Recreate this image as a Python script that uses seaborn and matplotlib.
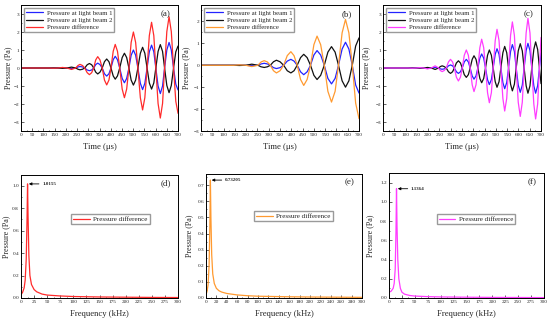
import numpy as np
import pandas as pd
import matplotlib
matplotlib.use("Agg")
import matplotlib.pyplot as plt
import seaborn as sns
from matplotlib.ticker import MultipleLocator, AutoMinorLocator

# =====================================
# Data
# =====================================

# (a) time domain (us) / pressure (Pa)
time_a = [0, 125, 145, 165, 185, 205, 225, 244,
          254, 263, 274, 284, 295, 305, 315, 324, 333, 342, 352, 362,
          372, 382, 392, 401, 411, 420, 430, 440, 451, 461, 471, 481,
          491, 501, 511, 521, 532, 542, 552, 562, 572, 582, 592, 601,
          611, 621, 631, 640, 650, 660, 670, 680, 690, 700]
beam1_a = [0, 0, -0.005, 0, 0.01, 0, -0.03, 0,
           0.06, 0.08, 0.06, 0, -0.11, -0.15, -0.11, 0, 0.19, 0.27, 0.19, 0,
           -0.32, -0.45, -0.32, 0, 0.46, 0.65, 0.46, 0, -0.58, -0.82, -0.58, 0,
           0.71, 1.0, 0.71, 0, -0.85, -1.2, -0.85, 0, 0.9, 1.27, 0.9, 0,
           -1.0, -1.42, -1.0, 0, 1.0, 1.42, 1.0, 0, -0.9, -1.22]
beam2_a = [0, 0, 0.005, 0, -0.02, 0, 0.05, 0,
           -0.07, -0.1, -0.07, 0, 0.18, 0.25, 0.18, 0, -0.23, -0.33, -0.23, 0,
           0.35, 0.5, 0.35, 0, -0.44, -0.62, -0.44, 0, 0.58, 0.82, 0.58, 0,
           -0.67, -0.95, -0.67, 0, 0.82, 1.15, 0.82, 0, -0.83, -1.17, -0.83, 0,
           0.92, 1.3, 0.92, 0, -0.97, -1.37, -0.97, 0, 0.9, 1.22]
diff_a = [0, 0, -0.01, 0, 0.03, 0, -0.08, 0,
          0.14, 0.2, 0.14, 0, -0.26, -0.37, -0.26, 0, 0.45, 0.63, 0.45, 0,
          -0.67, -0.94, -0.67, 0, 0.93, 1.31, 0.93, 0, -1.17, -1.65, -1.17, 0,
          1.42, 2.0, 1.42, 0, -1.65, -2.33, -1.65, 0, 1.8, 2.54, 1.8, 0,
          -1.97, -2.78, -1.97, 0, 2.02, 2.85, 2.02, 0, -1.85, -2.52]

# (b)
time_b = [0, 120, 145, 170, 198, 225, 252,
          266, 280, 294, 307, 321, 334, 350, 366, 382, 398, 412, 426,
          441, 455, 470, 485, 500, 514, 530, 546, 562, 578, 594, 609,
          625, 640, 655, 670, 685, 700]
beam1_b = [0, 0, 0, 0.01, 0, -0.02, 0,
           0.06, 0.09, 0.06, 0, -0.11, -0.15, -0.11, 0, 0.19, 0.27, 0.19, 0,
           -0.3, -0.43, -0.3, 0, 0.47, 0.67, 0.47, 0, -0.6, -0.85, -0.6, 0,
           0.74, 1.05, 0.74, 0, -0.9, -1.27]
beam2_b = [0, 0, 0, -0.01, 0, 0.05, 0,
           -0.07, -0.1, -0.07, 0, 0.16, 0.23, 0.16, 0, -0.25, -0.35, -0.25, 0,
           0.35, 0.5, 0.35, 0, -0.46, -0.65, -0.46, 0, 0.6, 0.85, 0.6, 0,
           -0.71, -1.0, -0.71, 0, 0.88, 1.25]
diff_b = [0, 0, 0, 0.02, 0, -0.06, 0,
          0.15, 0.21, 0.15, 0, -0.25, -0.35, -0.25, 0, 0.44, 0.62, 0.44, 0,
          -0.65, -0.92, -0.65, 0, 0.94, 1.33, 0.94, 0, -1.19, -1.68, -1.19, 0,
          1.48, 2.09, 1.48, 0, -1.73, -2.44]

# (c)
time_c = [0, 110, 130, 147, 163, 180, 197, 214, 231, 246,
          254, 262, 271, 280, 290, 299, 308, 316, 325, 334, 343, 351,
          360, 369, 378, 386, 395, 403, 412, 420, 429, 437, 446, 454,
          463, 471, 480, 488, 497, 505, 514, 522, 531, 539, 548, 556,
          565, 573, 582, 590, 599, 608, 617, 625, 634, 642, 651, 659,
          668, 676, 685, 693, 700]
beam1_c = [0, 0, -0.005, 0, 0.01, 0, -0.02, 0, 0.04, 0,
           -0.05, -0.07, -0.05, 0, 0.12, 0.17, 0.12, 0, -0.21, -0.3, -0.21, 0,
           0.34, 0.48, 0.34, 0, -0.44, -0.62, -0.44, 0, 0.55, 0.78, 0.55, 0,
           -0.65, -0.92, -0.65, 0, 0.76, 1.07, 0.76, 0, -0.81, -1.15, -0.81, 0,
           0.92, 1.3, 0.92, 0, -0.95, -1.35, -0.95, 0, 0.97, 1.37, 0.97, 0,
           -0.99, -1.4, -0.99, 0, 0.84]
beam2_c = [0, 0, 0.005, 0, -0.01, 0, 0.03, 0, -0.08, 0,
           0.08, 0.12, 0.08, 0, -0.21, -0.3, -0.21, 0, 0.28, 0.4, 0.28, 0,
           -0.37, -0.52, -0.37, 0, 0.48, 0.68, 0.48, 0, -0.58, -0.82, -0.58, 0,
           0.71, 1.0, 0.71, 0, -0.76, -1.07, -0.76, 0, 0.85, 1.2, 0.85, 0,
           -0.9, -1.27, -0.9, 0, 0.95, 1.35, 0.95, 0, -0.99, -1.4, -0.99, 0,
           1.03, 1.45, 1.03, 0, -0.87]
diff_c = [0, 0, -0.01, 0, 0.02, 0, -0.05, 0, 0.12, 0,
          -0.14, -0.2, -0.14, 0, 0.34, 0.48, 0.34, 0, -0.51, -0.72, -0.51, 0,
          0.71, 1.0, 0.71, 0, -0.93, -1.31, -0.93, 0, 1.13, 1.6, 1.13, 0,
          -1.37, -1.93, -1.37, 0, 1.52, 2.15, 1.52, 0, -1.69, -2.39, -1.69, 0,
          1.81, 2.56, 1.81, 0, -1.9, -2.69, -1.9, 0, 1.95, 2.76, 1.95, 0,
          -2.0, -2.83, -2.0, 0, 1.7]

# (d)-(f) spectra of the pressure difference (kHz / Pa)
freq_d = [0, 3, 6, 8, 10, 11.5, 12.5, 13.5, 15, 17, 20, 25, 30, 40, 50, 75, 100, 150, 200, 250, 300]
spec_d = [0.03, 0.05, 0.09, 0.16, 0.35, 0.7, 1.0155, 0.72, 0.38, 0.2, 0.12, 0.075,
          0.055, 0.035, 0.026, 0.018, 0.013, 0.009, 0.007, 0.005, 0.004]
freq_e = [0, 2, 4, 6, 7.5, 8.5, 9.5, 11, 13, 16, 20, 25, 30, 40, 60, 80, 100, 150, 200, 250, 300]
spec_e = [0.02, 0.04, 0.08, 0.2, 0.45, 0.73205, 0.5, 0.27, 0.15, 0.09, 0.06, 0.045,
          0.037, 0.028, 0.019, 0.014, 0.011, 0.008, 0.006, 0.005, 0.004]
freq_f = [0, 4, 8, 10, 12, 13.5, 14.5, 15.5, 17, 19, 22, 25, 30, 40, 50, 75, 100, 150, 200, 250, 300]
spec_f = [0.06, 0.07, 0.1, 0.15, 0.3, 0.7, 1.1364, 0.75, 0.4, 0.2, 0.1, 0.06,
          0.04, 0.026, 0.02, 0.014, 0.011, 0.008, 0.006, 0.005, 0.004]

peak_labels = ["1.0155", "0.73205", "1.1364"]

# =====================================
# Style
# =====================================

sns.set_style("ticks")
plt.rcParams['font.family'] = ['Liberation Serif', 'DejaVu Serif']

C_BLUE = "#2323ff"
C_BLACK = "#111111"
C_RED = "#ff2b2b"
C_ORANGE = "#ff9a30"
C_MAGENTA = "#ff3cff"
LW = 0.9

fig = plt.figure(figsize=(5.5, 3.21), dpi=100)


def style_axis(ax):
    for sp in ax.spines.values():
        sp.set_color("black")
        sp.set_linewidth(0.7)
    ax.tick_params(which="both", direction="in", labelsize=3.8, pad=1.5,
                   width=0.5, top=False, right=False)
    ax.tick_params(which="major", length=2)
    ax.tick_params(which="minor", length=1)
    ax.xaxis.set_minor_locator(AutoMinorLocator(2))
    ax.yaxis.set_minor_locator(AutoMinorLocator(2))


# =====================================
# Top row: time domain
# =====================================

top_panels = [
    ([0.0382, 0.5919, 0.2855, 0.3925], time_a, beam1_a, beam2_a, diff_a, C_RED,
     (-3.5, 3.5), "(a)", -0.057),
    ([0.3655, 0.5919, 0.2873, 0.3925], time_b, beam1_b, beam2_b, diff_b, C_ORANGE,
     (-3.0, 2.75), "(b)", -0.07),
    ([0.6964, 0.5919, 0.2873, 0.3925], time_c, beam1_c, beam2_c, diff_c, C_MAGENTA,
     (-3.5, 3.5), "(c)", -0.082),
]

for pos, t, b1, b2, d, cdiff, ylim, tag, ylx in top_panels:
    ax = fig.add_axes(pos)
    sns.lineplot(x=t, y=b1, ax=ax, color=C_BLUE, linewidth=LW, label="Pressure at light beam 1")
    sns.lineplot(x=t, y=b2, ax=ax, color=C_BLACK, linewidth=LW, label="Pressure at light beam 2")
    sns.lineplot(x=t, y=d, ax=ax, color=cdiff, linewidth=LW, label="Pressure difference")
    ax.set_xlim(0, 700)
    ax.set_ylim(*ylim)
    ax.xaxis.set_major_locator(MultipleLocator(50))
    ax.yaxis.set_major_locator(MultipleLocator(1))
    style_axis(ax)
    ax.set_xlabel("Time (μs)", fontsize=6.2)
    ax.set_ylabel("Pressure (Pa)", fontsize=5.8)
    ax.xaxis.set_label_coords(0.5, -0.095)
    ax.yaxis.set_label_coords(ylx, 0.5)
    ax.legend(loc="upper left", fontsize=4.9, frameon=True, fancybox=False,
              edgecolor="#9a9a9a", framealpha=1, handlelength=2.5,
              borderpad=0.3, labelspacing=0.2, handletextpad=0.5,
              borderaxespad=0.45)
    ax.text(0.955, 0.93, tag, transform=ax.transAxes, ha="right", va="center", fontsize=6.5)

# =====================================
# Bottom row: spectra
# =====================================

bottom_panels = [
    ([0.0382, 0.0717, 0.2855, 0.3832], freq_d, spec_d, C_RED, 1.095, 0.2, 25,
     "(d)", -0.07, (0.57, 0.64), peak_labels[0]),
    ([0.3745, 0.0717, 0.2836, 0.3863], freq_e, spec_e, C_ORANGE, 0.77, 0.1, 20,
     "(e)", -0.083, (0.56, 0.66), peak_labels[1]),
    ([0.7073, 0.0717, 0.2818, 0.3894], freq_f, spec_f, C_MAGENTA, 1.3, 0.2, 25,
     "(f)", -0.097, (0.56, 0.63), peak_labels[2]),
]

for pos, f, s, col, ytop, ystep, xstep, tag, ylx, legpos, plabel in bottom_panels:
    ax = fig.add_axes(pos)
    sns.lineplot(x=f, y=s, ax=ax, color=col, linewidth=LW, label="Pressure difference")
    ax.set_xlim(0, 300)
    ax.set_ylim(0, ytop)
    ax.xaxis.set_major_locator(MultipleLocator(xstep))
    ax.yaxis.set_major_locator(MultipleLocator(ystep))
    ax.yaxis.set_major_formatter(plt.FormatStrFormatter("%.1f"))
    style_axis(ax)
    ax.set_xlabel("Frequency (kHz)", fontsize=6.2)
    ax.set_ylabel("Pressure (Pa)", fontsize=5.8)
    ax.xaxis.set_label_coords(0.5, -0.098)
    ax.yaxis.set_label_coords(ylx, 0.5)
    ax.legend(loc="center", bbox_to_anchor=legpos, fontsize=5.1, frameon=True,
              fancybox=False, edgecolor="#9a9a9a", framealpha=1, handlelength=2.3,
              borderpad=0.3, handletextpad=0.5)
    ax.text(0.955, 0.93, tag, transform=ax.transAxes, ha="right", va="center", fontsize=6.5)

    # arrow pointing at the spectral peak
    i = int(np.argmax(s))
    ax.annotate(plabel, xy=(f[i] + 2.5, s[i]), xytext=(f[i] + 28, s[i]),
                fontsize=3.6, fontweight="bold", va="center", ha="left",
                arrowprops=dict(arrowstyle="-|>", color="black", lw=0.6,
                                mutation_scale=4, shrinkA=0, shrinkB=0))

fig.savefig("out.png", dpi=100)
